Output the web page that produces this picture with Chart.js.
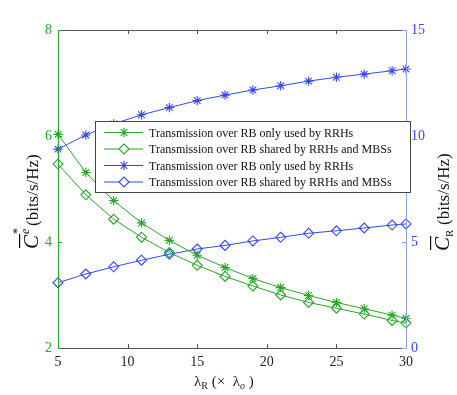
<!DOCTYPE html>
<html>
<head>
<meta charset="utf-8">
<script src="https://cdn.jsdelivr.net/npm/chart.js@4"></script>
<style>
  html, body { margin: 0; padding: 0; background: #fff; }
  #wrap { width: 457px; height: 395px; }
</style>
</head>
<body>
<div id="wrap"><canvas id="rbChart" width="457" height="395"></canvas></div>
<script>
// lambda_R values (x axis)
const lambdaR = [5, 7, 9, 11, 13, 15, 17, 19, 21, 23, 25, 27, 29, 30];

// left axis (C^e*) series
const greenOnlyRRH = [6.03, 5.31, 4.78, 4.36, 4.03, 3.75, 3.52, 3.31, 3.14, 2.99, 2.86, 2.74, 2.62, 2.56];
const greenShared = [5.47, 4.89, 4.43, 4.09, 3.80, 3.56, 3.35, 3.17, 3.00, 2.86, 2.75, 2.64, 2.52, 2.47];

// right axis (C_R) series
const blueOnlyRRH = [9.38, 10.05, 10.57, 11.0, 11.34, 11.67, 11.93, 12.17, 12.37, 12.59, 12.77, 12.92, 13.08, 13.16];
const blueShared = [3.08, 3.49, 3.83, 4.14, 4.42, 4.67, 4.84, 5.05, 5.22, 5.41, 5.53, 5.66, 5.80, 5.85];

const xTicks = [5, 10, 15, 20, 25, 30];
const leftTicks = [2, 4, 6, 8];
const rightTicks = [0, 5, 10, 15];

const legendLabels = [
    'Transmission over RB only used by RRHs',
    'Transmission over RB shared by RRHs and MBSs',
    'Transmission over RB only used by RRHs',
    'Transmission over RB shared by RRHs and MBSs'
];

const GREEN = '#22a822';
const BLUE = '#3348f5';
const LIGHTBLUE = '#8aa6ee';
const SERIF = '"Liberation Serif", "DejaVu Serif", serif';

function series(label, values, color, style, axis) {
    return {
        label: label,
        data: lambdaR.map((x, i) => ({ x: x, y: values[i] })),
        borderColor: color,
        backgroundColor: 'rgba(0,0,0,0)',
        borderWidth: 1,
        pointStyle: style,
        pointRadius: style === 'star' ? 4.7 : 5,
        pointBorderWidth: 1.1,
        pointBorderColor: color,
        pointBackgroundColor: 'rgba(0,0,0,0)',
        tension: 0,
        yAxisID: axis,
        clip: false
    };
}

// frame, inward ticks, axis titles and legend
const decorations = {
    id: 'decorations',
    afterDraw(chart) {
        const ctx = chart.ctx;
        const a = chart.chartArea;
        const xs = chart.scales.x, yl = chart.scales.yL, yr = chart.scales.yR;
        ctx.save();

        // box lines
        ctx.lineWidth = 1;
        ctx.strokeStyle = '#555';
        ctx.beginPath();
        ctx.moveTo(a.left, a.top + 0.5); ctx.lineTo(a.right, a.top + 0.5);
        ctx.moveTo(a.left, a.bottom + 0.5); ctx.lineTo(a.right, a.bottom + 0.5);
        xTicks.forEach(t => {
            const px = Math.round(xs.getPixelForValue(t)) + 0.5;
            ctx.moveTo(px, a.bottom); ctx.lineTo(px, a.bottom - 4);
            ctx.moveTo(px, a.top); ctx.lineTo(px, a.top + 4);
        });
        ctx.stroke();

        ctx.strokeStyle = GREEN;
        ctx.beginPath();
        ctx.moveTo(a.left + 0.5, a.top); ctx.lineTo(a.left + 0.5, a.bottom + 1);
        leftTicks.forEach(t => {
            const py = Math.round(yl.getPixelForValue(t)) + 0.5;
            ctx.moveTo(a.left, py); ctx.lineTo(a.left + 4, py);
        });
        ctx.stroke();

        ctx.strokeStyle = LIGHTBLUE;
        ctx.beginPath();
        ctx.moveTo(a.right + 0.5, a.top); ctx.lineTo(a.right + 0.5, a.bottom + 1);
        rightTicks.forEach(t => {
            const py = Math.round(yr.getPixelForValue(t)) + 0.5;
            ctx.moveTo(a.right, py); ctx.lineTo(a.right - 4, py);
        });
        ctx.stroke();

        // x axis title: lambda_R (x lambda_o)
        ctx.fillStyle = '#222';
        ctx.textBaseline = 'alphabetic';
        let x = 194, y = 386;
        const parts = [
            ['λ', '15px ' + SERIF, 0],
            ['R', '10px ' + SERIF, 3],
            [' (×  λ', '15px ' + SERIF, 0],
            ['o', 'italic 10px ' + SERIF, 3],
            [' )', '15px ' + SERIF, 0]
        ];
        parts.forEach(p => {
            ctx.font = p[1];
            ctx.fillText(p[0], x, y + p[2]);
            x += ctx.measureText(p[0]).width;
        });

        // left axis title
        ctx.save();
        ctx.translate(38, 189);
        ctx.rotate(-Math.PI / 2);
        ctx.fillStyle = '#111';
        ctx.font = 'italic 21px ' + SERIF;
        let lx = -60;
        ctx.fillText('C', lx, 0);
        const cw = ctx.measureText('C').width;
        ctx.fillRect(lx + 1, -19, cw, 1.2);
        ctx.font = 'italic 12px ' + SERIF;
        ctx.fillText('e', lx + cw + 1, -9);
        ctx.font = '12px ' + SERIF;
        ctx.fillText('*', lx + cw + 1, -17);
        ctx.font = '17px ' + SERIF;
        ctx.fillText('(bits/s/Hz)', lx + cw + 9, 0);
        ctx.restore();

        // right axis title
        ctx.save();
        ctx.translate(449, 189);
        ctx.rotate(-Math.PI / 2);
        ctx.fillStyle = '#111';
        ctx.font = 'italic 21px ' + SERIF;
        let rx = -62;
        ctx.fillText('C', rx, 0);
        const rw = ctx.measureText('C').width;
        ctx.fillRect(rx + 1, -19, rw, 1.2);
        ctx.font = '11px ' + SERIF;
        ctx.fillText('R', rx + rw, 4);
        ctx.font = '17px ' + SERIF;
        ctx.fillText('(bits/s/Hz)', rx + rw + 12, 0);
        ctx.restore();

        // legend box
        const box = { l: 95.5, t: 121.5, r: 410.5, b: 192.5 };
        ctx.fillStyle = '#fff';
        ctx.fillRect(box.l, box.t, box.r - box.l, box.b - box.t);
        ctx.strokeStyle = '#444';
        ctx.lineWidth = 1;
        ctx.strokeRect(box.l, box.t, box.r - box.l, box.b - box.t);
        ctx.font = '12px ' + SERIF;
        ctx.textBaseline = 'middle';
        chart.data.datasets.forEach((ds, i) => {
            const ry = 132.5 + i * 16.5;
            ctx.strokeStyle = ds.borderColor;
            ctx.lineWidth = 1;
            ctx.beginPath();
            ctx.moveTo(104, ry); ctx.lineTo(143, ry);
            ctx.stroke();
            ctx.fillStyle = '#fff';
            ctx.lineWidth = 1.1;
            Chart.helpers.drawPoint(ctx, {
                pointStyle: ds.pointStyle,
                radius: ds.pointRadius,
                borderWidth: 1.1,
                rotation: 0
            }, 124, ry);
            ctx.fillStyle = '#111';
            ctx.fillText(legendLabels[i], 149, ry + 1);
        });

        ctx.restore();
    }
};

const ctx = document.getElementById('rbChart').getContext('2d');
const rbChart = new Chart(ctx, {
    type: 'line',
    data: {
        datasets: [
            series(legendLabels[0], greenOnlyRRH, GREEN, 'star', 'yL'),
            series(legendLabels[1], greenShared, GREEN, 'rectRot', 'yL'),
            series(legendLabels[2], blueOnlyRRH, BLUE, 'star', 'yR'),
            series(legendLabels[3], blueShared, BLUE, 'rectRot', 'yR')
        ]
    },
    options: {
        responsive: false,
        animation: false,
        layout: { padding: { top: 30, right: 0, left: 0, bottom: 0 } },
        plugins: {
            legend: { display: false },
            tooltip: { enabled: false }
        },
        scales: {
            x: {
                type: 'linear',
                min: 5,
                max: 30,
                afterBuildTicks: s => { s.ticks = xTicks.map(v => ({ value: v })); },
                grid: { display: false, drawTicks: false },
                border: { display: false },
                ticks: {
                    color: '#222',
                    font: { family: SERIF, size: 14 },
                    padding: 6,
                    maxRotation: 0
                },
                afterFit: s => { s.height = 47; }
            },
            yL: {
                position: 'left',
                min: 2,
                max: 8,
                afterBuildTicks: s => { s.ticks = leftTicks.map(v => ({ value: v })); },
                grid: { display: false, drawTicks: false },
                border: { display: false },
                ticks: {
                    color: GREEN,
                    font: { family: SERIF, size: 14 },
                    padding: 6
                },
                afterFit: s => { s.width = 58; }
            },
            yR: {
                position: 'right',
                min: 0,
                max: 15,
                afterBuildTicks: s => { s.ticks = rightTicks.map(v => ({ value: v })); },
                grid: { display: false, drawTicks: false },
                border: { display: false },
                ticks: {
                    color: BLUE,
                    font: { family: SERIF, size: 14 },
                    padding: 5
                },
                afterFit: s => { s.width = 51; }
            }
        }
    },
    plugins: [decorations]
});
</script>
</body>
</html>
